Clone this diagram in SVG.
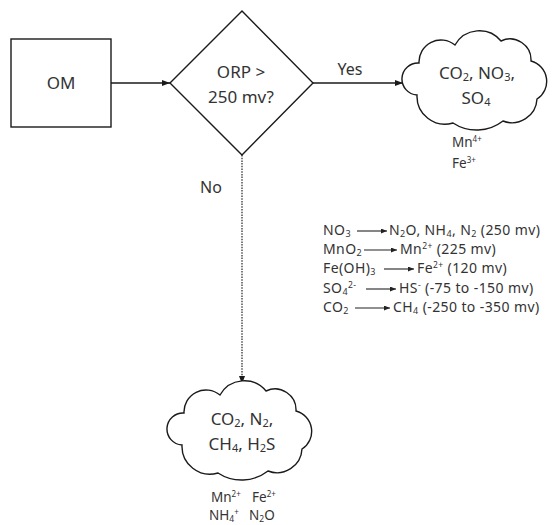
<svg xmlns="http://www.w3.org/2000/svg" width="553" height="525" viewBox="0 0 553 525">
<style>
  .shape { fill: #ffffff; stroke: #1a1a1a; stroke-width: 1.4; }
  .t { font-family: "Noto Sans", "Open Sans", "Liberation Sans", sans-serif; fill: #333333; }
  .big { font-size: 17px; }
  .mid { font-size: 16px; }
  .sm { font-size: 13.5px; }
  .rx { font-size: 14px; letter-spacing: 0.4px; }
  .conn { stroke: #1a1a1a; stroke-width: 1.4; fill: none; }
  .dot { stroke: #333333; stroke-width: 1.3; stroke-dasharray: 1.5 1.2; fill: none; }
  .tarr { stroke: #222222; stroke-width: 1.1; fill: none; }
</style>
<defs>
  <marker id="ah" markerWidth="8" markerHeight="6" refX="8" refY="3" orient="auto" markerUnits="userSpaceOnUse">
    <path d="M0,0 L8,3 L0,6 z" fill="#1a1a1a"/>
  </marker>
  <marker id="ahs" markerWidth="6" markerHeight="5" refX="6" refY="2.5" orient="auto" markerUnits="userSpaceOnUse">
    <path d="M0,0 L6,2.5 L0,5 z" fill="#222222"/>
  </marker>
  <path id="cloud" d="M14,62 A16,16 0 0 1 16,30 A22,22 0 0 1 52,12 A28,28 0 0 1 98,8 A21,21 0 0 1 128,28 A21,21 0 0 1 134,66 A25,25 0 0 1 100,88 A43,43 0 0 1 50,90 A28,28 0 0 1 14,62 Z"/>
</defs>

<g id="connectors">
  <line class="conn" x1="111" y1="83" x2="170" y2="83" marker-end="url(#ah)"/>
  <line class="conn" x1="313" y1="83" x2="403" y2="83" marker-end="url(#ah)"/>
  <text class="t mid" x="350" y="75" text-anchor="middle">Yes</text>
  <line class="dot" x1="242" y1="155" x2="242" y2="384" marker-end="url(#ah)"/>
  <text class="t mid" x="211" y="193" text-anchor="middle">No</text>
</g>

<g id="om">
  <rect class="shape" x="11" y="39" width="100" height="88"/>
  <text class="t big" x="61" y="89" text-anchor="middle">OM</text>
</g>

<g id="decision">
  <polygon class="shape" points="242,11 313,83 242,155 170,83"/>
  <text class="t big" x="241" y="78" text-anchor="middle">ORP &gt;</text>
  <text class="t big" x="241" y="103" text-anchor="middle">250 mv?</text>
</g>

<g id="oxidized">
  <use href="#cloud" class="shape" transform="translate(403,33)"/>
  <text class="t big" x="477" y="79" text-anchor="middle">CO<tspan font-size="11" dy="2">2</tspan><tspan dy="-2">, NO</tspan><tspan font-size="11" dy="2">3</tspan><tspan dy="-2">,</tspan></text>
  <text class="t big" x="476" y="104" text-anchor="middle">SO<tspan font-size="11" dy="2">4</tspan></text>
  <text class="t sm" x="452" y="147">Mn<tspan font-size="8" dy="-5">4+</tspan></text>
  <text class="t sm" x="452" y="168">Fe<tspan font-size="8" dy="-5">3+</tspan></text>
</g>

<g id="reduced">
  <use href="#cloud" class="shape" transform="translate(168,383)"/>
  <text class="t big" x="242" y="425" text-anchor="middle">CO<tspan font-size="11" dy="2">2</tspan><tspan dy="-2">, N</tspan><tspan font-size="11" dy="2">2</tspan><tspan dy="-2">,</tspan></text>
  <text class="t big" x="242" y="450" text-anchor="middle">CH<tspan font-size="11" dy="2">4</tspan><tspan dy="-2">, H</tspan><tspan font-size="11" dy="2">2</tspan><tspan dy="-2">S</tspan></text>
  <text class="t sm" x="211" y="502">Mn<tspan font-size="8" dy="-5">2+</tspan></text>
  <text class="t sm" x="252" y="502">Fe<tspan font-size="8" dy="-5">2+</tspan></text>
  <text class="t sm" x="209" y="520">NH<tspan font-size="8.5" dy="2">4</tspan><tspan font-size="8" dy="-7">+</tspan></text>
  <text class="t sm" x="249" y="520">N<tspan font-size="8.5" dy="2">2</tspan><tspan dy="-2">O</tspan></text>
</g>

<g id="reactions">
  <text class="t rx" x="323" y="235">NO<tspan font-size="9" dy="2">3</tspan></text>
  <line class="tarr" x1="357" y1="231" x2="387" y2="231" marker-end="url(#ahs)"/>
  <text class="t rx" x="389" y="235">N<tspan font-size="9" dy="2">2</tspan><tspan dy="-2">O, NH</tspan><tspan font-size="9" dy="2">4</tspan><tspan dy="-2">, N</tspan><tspan font-size="9" dy="2">2</tspan><tspan dy="-2"> (250 mv)</tspan></text>

  <text class="t rx" x="323" y="254">MnO<tspan font-size="9" dy="2">2</tspan></text>
  <line class="tarr" x1="364" y1="250" x2="397" y2="250" marker-end="url(#ahs)"/>
  <text class="t rx" x="400" y="254">Mn<tspan font-size="8.5" dy="-5">2+</tspan><tspan dy="5"> (225 mv)</tspan></text>

  <text class="t rx" x="323" y="273">Fe(OH)<tspan font-size="9" dy="2">3</tspan></text>
  <line class="tarr" x1="384" y1="269" x2="414" y2="269" marker-end="url(#ahs)"/>
  <text class="t rx" x="417" y="273">Fe<tspan font-size="8.5" dy="-5">2+</tspan><tspan dy="5"> (120 mv)</tspan></text>

  <text class="t rx" x="323" y="293">SO<tspan font-size="9" dy="2">4</tspan><tspan font-size="8.5" dy="-7">2-</tspan></text>
  <line class="tarr" x1="366" y1="289" x2="396" y2="289" marker-end="url(#ahs)"/>
  <text class="t rx" x="399" y="293">HS<tspan font-size="8.5" dy="-5">-</tspan><tspan dy="5"> (-75 to -150 mv)</tspan></text>

  <text class="t rx" x="323" y="312">CO<tspan font-size="9" dy="2">2</tspan></text>
  <line class="tarr" x1="355" y1="308" x2="390" y2="308" marker-end="url(#ahs)"/>
  <text class="t rx" x="393" y="312">CH<tspan font-size="9" dy="2">4</tspan><tspan dy="-2"> (-250 to -350 mv)</tspan></text>
</g>
</svg>
